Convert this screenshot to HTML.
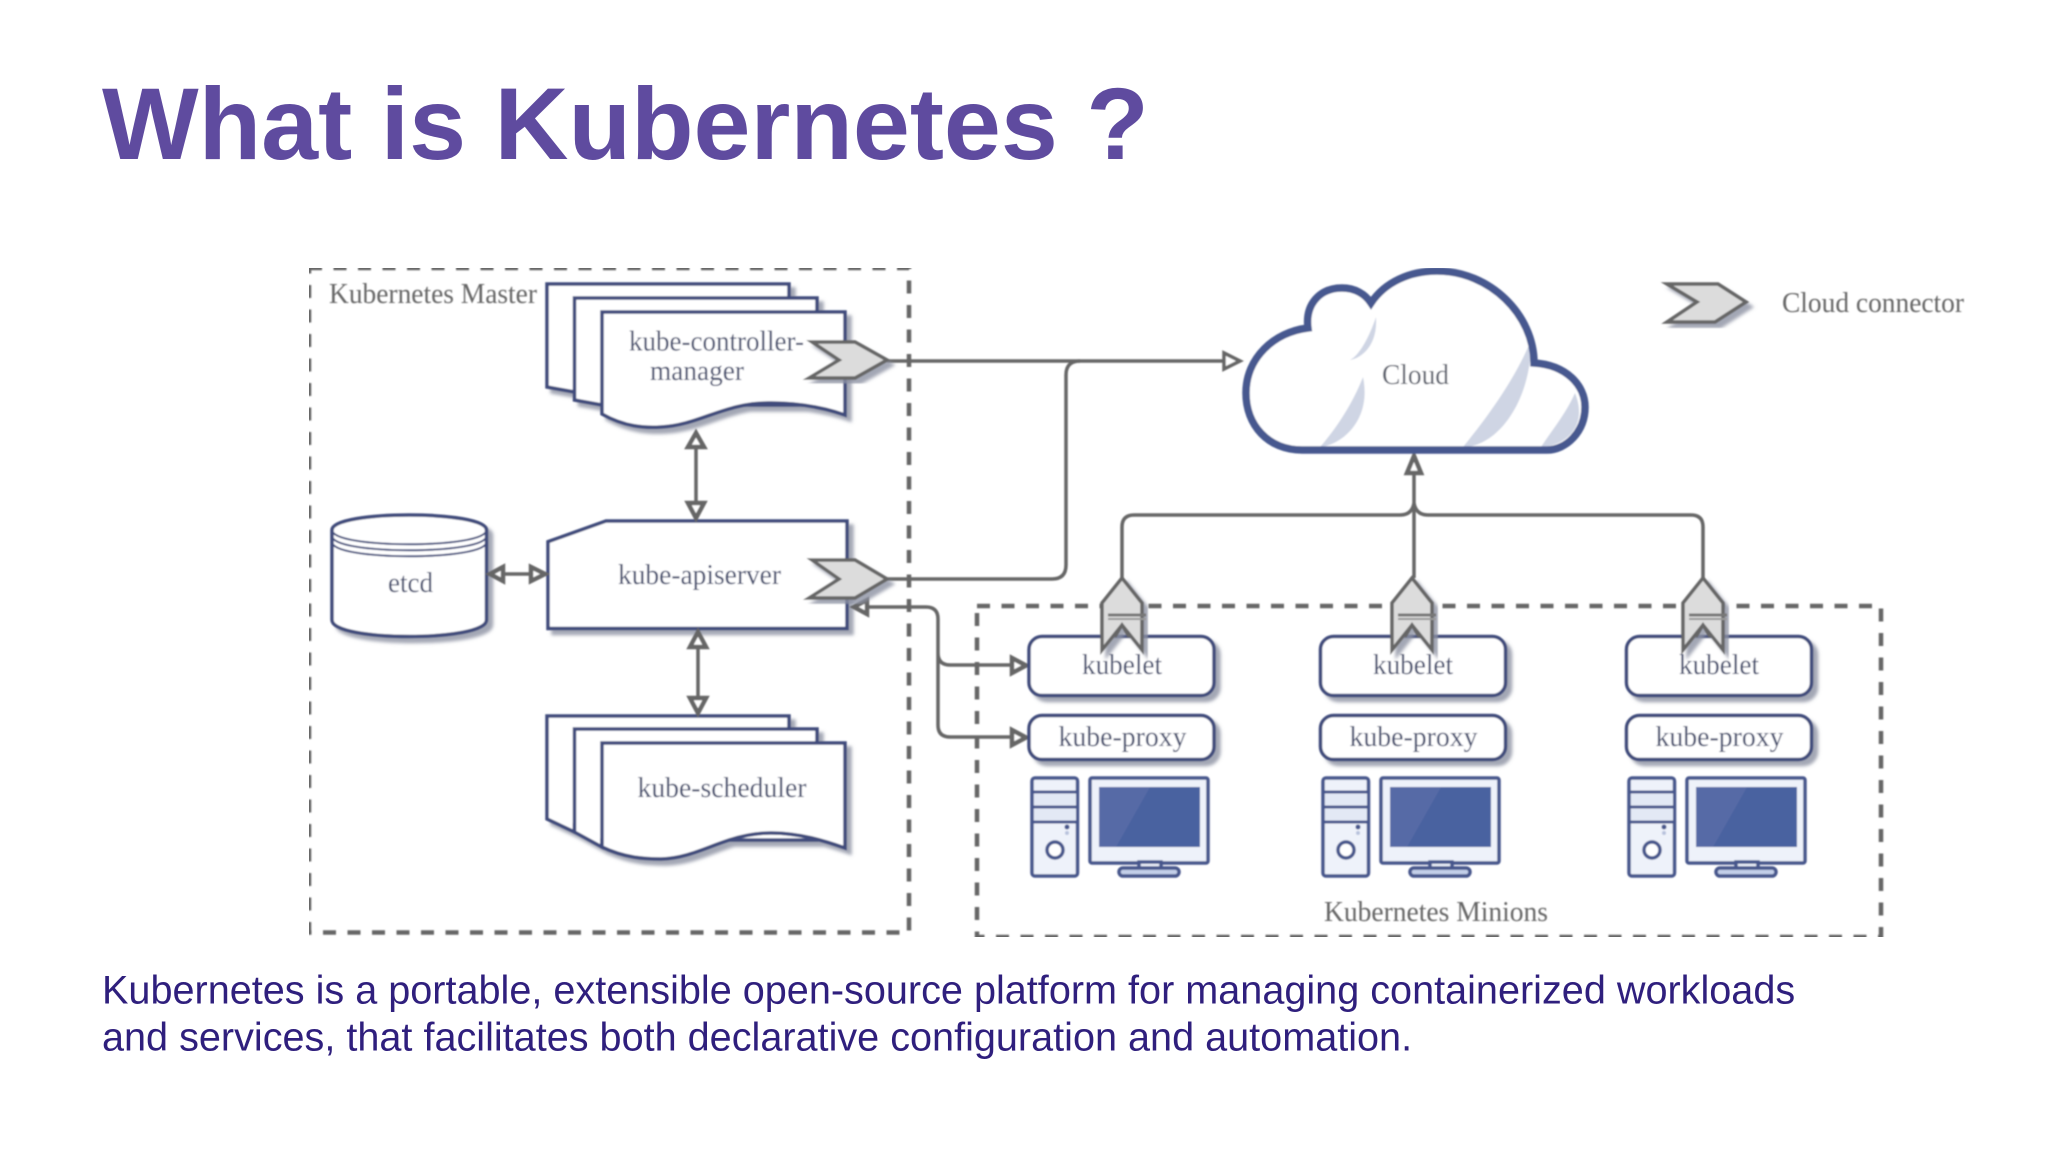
<!DOCTYPE html>
<html><head><meta charset="utf-8"><style>
html,body{margin:0;padding:0;background:#fff;width:2048px;height:1152px;overflow:hidden}
svg{display:block}
.s{font-family:"Liberation Serif",serif;font-size:28px;fill:#454d6e}
.g{font-family:"Liberation Serif",serif;font-size:28px;fill:#666}
.a{font-family:"Liberation Sans",sans-serif}
.l{fill:none;stroke:#666;stroke-width:3.5}
.h{fill:#fff;stroke:#666;stroke-width:4.500;stroke-linejoin:miter}
.d{fill:#fff;stroke:#3f4b7c;stroke-width:3.500}
.c{fill:#dcdcdc;stroke:#666;stroke-width:3.500}
.m{stroke:#47568c;stroke-width:3.500;fill:#eef2fa}
</style></head><body>
<svg width="2048" height="1152" viewBox="0 0 2048 1152" xmlns="http://www.w3.org/2000/svg">
<defs>
<filter id="sh" x="-10%" y="-10%" width="125%" height="125%"><feDropShadow dx="5" dy="5" stdDeviation="1.5" flood-color="#8d92a3" flood-opacity=".8"/></filter>
<filter id="b" x="0" y="0" width="100%" height="100%"><feGaussianBlur stdDeviation="0.7"/></filter>
<g id="pc">
<rect class="m" x="1032" y="778" width="45.500" height="98" rx="3"/>
<rect x="1034" y="793.500" width="42" height="12" fill="#e3e9f5"/><rect x="1034" y="808.500" width="42" height="12" fill="#e3e9f5"/>
<path d="M1032 792H1077M1032 807H1077M1032 822H1077" stroke="#47568c" stroke-width="3" fill="none"/>
<circle cx="1055" cy="850" r="8" fill="#fff" stroke="#47568c" stroke-width="3.500"/>
<circle cx="1067" cy="827" r="2.500" fill="#47568c"/><circle cx="1067" cy="833" r="2" fill="#b8c2dc"/>
<rect class="m" x="1090" y="778" width="118" height="85" rx="2"/>
<rect x="1099" y="787" width="101" height="60" fill="#4a62a0"/>
<path d="M1099 787H1150L1116 847H1099Z" fill="#566aa6"/>
<rect class="m" x="1139" y="862" width="22" height="7" />
<rect class="m" x="1119" y="868" width="60" height="8" rx="4" style="fill:#c3cfe8"/>
</g>
<g id="up">
<path class="c" d="M0 -47L-20 -22V25L0 0L20 25V-22Z" filter="url(#sh)"/>
<path d="M-14 -10H24" stroke="#777" stroke-width="3"/><path d="M-14 -6H24" stroke="#999" stroke-width="2"/>
<path d="M-7 12L0 0L7 12" fill="none" stroke="#666" stroke-width="3"/>
</g>
</defs>
<rect width="2048" height="1152" fill="#fff"/>
<text x="102" y="159" class="a" font-size="102.400" font-weight="700" fill="#5f4b9f">What is Kubernetes ?</text>
<g filter="url(#b)">
<!-- dashed groups -->
<rect x="309" y="268" width="600" height="664.500" fill="none" stroke="#666" stroke-width="4.500" stroke-dasharray="13 11.500"/>
<rect x="977" y="606" width="904" height="331" fill="none" stroke="#666" stroke-width="4.500" stroke-dasharray="13 11.500"/>
<text x="329" y="303" class="g" textLength="208" lengthAdjust="spacingAndGlyphs">Kubernetes Master</text>

<!-- controller docs -->
<g filter="url(#sh)">
<path class="d" d="M547 284H789V392H574.500L547 387Z"/>
<path class="d" d="M574.500 298H817V405H602L574.500 400Z"/>
<path class="d" d="M602 312H845V415C825 408 800 403 771 403C725 402 700 425 661 427C645 428 625 427 602 414Z"/>
</g>
<!-- scheduler docs -->
<g filter="url(#sh)">
<path class="d" d="M547 716H789V825H574.500V832L547 819Z"/>
<path class="d" d="M574.500 729H817V840H602V847L574.500 832Z"/>
<path class="d" d="M602 743H845V848C825 841 800 833 771 833C725 833 700 858 661 859C645 859 625 858 602 847Z"/>
</g>
<!-- api -->
<path class="d" filter="url(#sh)" d="M548 541.700L606 521H847V628.500H548Z"/>
<!-- etcd -->
<path class="d" filter="url(#sh)" d="M332 530C332 510 486.500 510 486.500 530V620C486.500 642 332 642 332 620Z"/>
<path d="M332 530C332 549 486.500 549 486.500 530M332 536C332 555 486.500 555 486.500 536M332 542C332 561 486.500 561 486.500 542" fill="none" stroke="#3f4b7c" stroke-width="2"/>

<text x="629" y="350.500" class="s" textLength="175" lengthAdjust="spacingAndGlyphs">kube-controller-</text>
<text x="650" y="380" class="s" textLength="94" lengthAdjust="spacingAndGlyphs">manager</text>
<text x="618" y="584" class="s" textLength="163" lengthAdjust="spacingAndGlyphs">kube-apiserver</text>
<text x="388" y="592" class="s" textLength="45" lengthAdjust="spacingAndGlyphs">etcd</text>
<text x="637.500" y="797" class="s" textLength="169" lengthAdjust="spacingAndGlyphs">kube-scheduler</text>

<!-- connectors -->
<path class="l" d="M887 361H1225"/>
<path class="l" d="M887 579H1052Q1066 579 1066 565V375Q1066 361 1080 361"/>
<path class="h" d="M1224 353L1240 361L1224 369Z" style="stroke-width:3.500"/>
<path class="l" d="M696 445V505"/>
<path class="h" d="M696 433L704 447H688Z"/><path class="h" d="M696 518L704 503H688Z"/>
<path class="l" d="M698 645V700"/>
<path class="h" d="M698 632L706 647H690Z"/><path class="h" d="M698 713L706 698H690Z"/>
<path class="l" d="M503 574H532"/>
<path class="h" d="M490 574L503 567V581Z"/><path class="h" d="M545 574L531 567V581Z"/>
<path class="l" d="M866 607H926Q938 607 938 619V725Q938 737 950 737H1013M938 653Q938 665 950 665H1012"/>
<path class="h" d="M854 607L867 600V614Z"/>
<path class="h" d="M1026 665.500L1012 658V673Z"/><path class="h" d="M1026 737.500L1012 730V745Z"/>
<path class="l" d="M1122 578V527Q1122 515 1134 515H1400Q1412 515 1414 503M1703 578V527Q1703 515 1691 515H1428Q1416 515 1414 503M1414 473V578"/>
<path class="h" d="M1414 456L1421 473H1407Z"/>

<!-- cloud -->
<path d="M1246 393C1246 358 1274 332 1308 328C1305 304 1320 288 1342 288C1355 288 1365 294 1371 303C1385 282 1410 271 1437 271C1490 271 1534 315 1534 363C1566 365 1585 385 1585 407C1585 432 1566 450 1547 450H1302C1268 450 1246 425 1246 393Z" fill="#fff"/>
<g fill="#cfd5e4">
<path d="M1376 317C1370 335 1360 355 1350 360C1362 358 1378 345 1376 317Z"/>
<path d="M1363 377C1352 405 1335 430 1320 447C1342 445 1372 420 1363 377Z"/>
<path d="M1531 340C1515 380 1485 420 1463 447C1498 447 1532 400 1531 340Z"/>
<path d="M1575 393C1565 415 1552 430 1541 447C1560 447 1590 430 1575 393Z"/>
</g>
<path d="M1246 393C1246 358 1274 332 1308 328C1305 304 1320 288 1342 288C1355 288 1365 294 1371 303C1385 282 1410 271 1437 271C1490 271 1534 315 1534 363C1566 365 1585 385 1585 407C1585 432 1566 450 1547 450H1302C1268 450 1246 425 1246 393Z" fill="none" stroke="#47598f" stroke-width="7.500"/>
<text x="1382" y="384" class="g" style="fill:#5a5f6c" textLength="67" lengthAdjust="spacingAndGlyphs">Cloud</text>

<!-- legend and chevrons -->
<path class="c" filter="url(#sh)" d="M1667 284H1718L1746 302L1715 322H1667L1697 302Z"/>
<text x="1782" y="312" class="g" textLength="182" lengthAdjust="spacingAndGlyphs">Cloud connector</text>
<path class="c" filter="url(#sh)" d="M812 342H855L887 360L855 378H809L839 360Z"/>
<path class="c" filter="url(#sh)" d="M812 560H855L887 579L855 598H809L839 579Z"/>

<!-- minions -->
<g filter="url(#sh)">
<rect class="d" x="1029" y="636.500" width="185" height="59" rx="13"/>
<rect class="d" x="1029" y="715.500" width="185" height="44" rx="13"/>
<rect class="d" x="1320.500" y="636.500" width="185" height="59" rx="13"/>
<rect class="d" x="1320.500" y="715.500" width="185" height="44" rx="13"/>
<rect class="d" x="1626.500" y="636.500" width="185" height="59" rx="13"/>
<rect class="d" x="1626.500" y="715.500" width="185" height="44" rx="13"/>
</g>
<use href="#up" x="1122" y="625"/><use href="#up" x="1412" y="625"/><use href="#up" x="1703" y="625"/>
<g class="s">
<text x="1082" y="674" class="s" textLength="80" lengthAdjust="spacingAndGlyphs">kubelet</text>
<text x="1058.500" y="746" class="s" textLength="128" lengthAdjust="spacingAndGlyphs">kube-proxy</text>
<text x="1373" y="674" class="s" textLength="80" lengthAdjust="spacingAndGlyphs">kubelet</text>
<text x="1349.500" y="746" class="s" textLength="128" lengthAdjust="spacingAndGlyphs">kube-proxy</text>
<text x="1679" y="674" class="s" textLength="80" lengthAdjust="spacingAndGlyphs">kubelet</text>
<text x="1655.500" y="746" class="s" textLength="128" lengthAdjust="spacingAndGlyphs">kube-proxy</text>
</g>
<use href="#pc"/><use href="#pc" x="291"/><use href="#pc" x="597"/>
<text x="1324" y="921" class="g" textLength="224" lengthAdjust="spacingAndGlyphs">Kubernetes Minions</text>
</g>
<text x="102" y="1003.500" class="a" font-size="39.620" fill="#2f1f7d">Kubernetes is a portable, extensible open-source platform for managing containerized workloads</text>
<text x="102" y="1050.500" class="a" font-size="39.620" fill="#2f1f7d">and services, that facilitates both declarative configuration and automation.</text>
</svg>
</body></html>
